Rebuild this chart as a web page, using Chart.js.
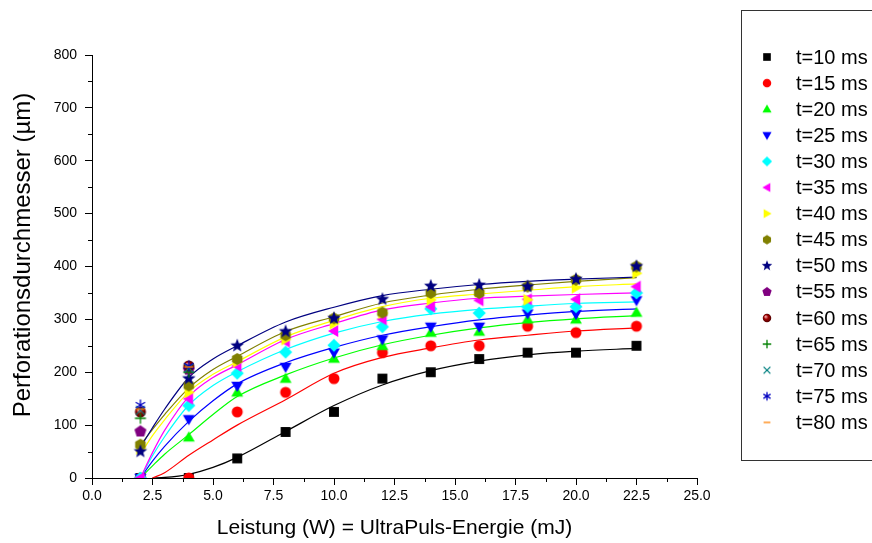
<!DOCTYPE html>
<html>
<head>
<meta charset="utf-8">
<script src="https://cdn.jsdelivr.net/npm/chart.js@4.4.1/dist/chart.umd.min.js"></script>
<style>
  body { margin: 0; background: #fff; }
</style>
</head>
<body>
<canvas id="myChart" width="872" height="543"></canvas>
<script>
// measured points, x = power (W)
const energy = [2, 4, 6, 8, 10, 12, 14, 16, 18, 20, 22.5];
const pulseLabels = ['t=10 ms', 't=15 ms', 't=20 ms', 't=25 ms', 't=30 ms', 't=35 ms', 't=40 ms', 't=45 ms',
                     't=50 ms', 't=55 ms', 't=60 ms', 't=65 ms', 't=70 ms', 't=75 ms', 't=80 ms'];
const d10 = [0, 0, 37, 87, 125, 188, 200, 225, 237, 237, 250];
const d15 = [0, 0, 125, 162, 188, 237, 250, 250, 287, 275, 287];
const d20 = [0, 77, 162, 188, 226, 250, 275, 277, 300, 300, 313];
const d25 = [0, 111, 174, 210, 237, 262, 286, 286, 311, 310, 336];
const d30 = [0, 137, 198, 238, 251, 286, 320, 312, 324, 324, 350];
const d35 = [0, 150, 212, 258, 278, 300, 324, 336, 338, 338, 362];
const d40 = [55, 162, 220, 262, 292, 312, 337, 352, 337, 360, 387];
const d45 = [63, 175, 225, 270, 302, 313, 350, 350, 362, 375, 400];
const d50 = [50, 188, 250, 277, 302, 338, 363, 365, 362, 376, 400];
const d55 = [88, 205];
const d60 = [125, 212];
const d65 = [113, 200];
const d70 = [128, 208];
const d75 = [138, 212];
const d80 = [130, 210];

// fitted curves
const fitX = [2, 2.5, 3, 4, 5, 6, 8, 10, 12, 14, 16, 18, 20, 22.5];
const fit10 = [null, 0, 1, 7, 20, 39, 88, 137, 176, 203, 221, 233, 240, 245];
const fit15 = [null, 0, 10, 43, 72, 100, 148, 198, 228, 246, 261, 270, 278, 284];
const fit20 = [0, 23, 45, 82, 120, 154, 195, 227, 252, 270, 284, 294, 301, 307];
const fit25 = [0, 32, 60, 107, 146, 178, 218, 247, 270, 286, 299, 308, 315, 320];
const fit30 = [0, 42, 78, 138, 175, 201, 243, 274, 296, 310, 319, 325, 330, 333];
const fit35 = [0, 48, 90, 154, 190, 214, 262, 292, 318, 331, 340, 344, 347, 350];
const fit40 = [45, 80, 110, 163, 196, 220, 267, 298, 324, 340, 348, 355, 362, 367];
const fit45 = [62, 92, 120, 170, 205, 230, 277, 305, 331, 346, 357, 365, 372, 379];
const fit50 = [58, 95, 130, 190, 225, 250, 295, 323, 345, 357, 366, 372, 376, 380];

const yTitle = 'Perforationsdurchmesser (µm)';
const xTitle = 'Leistung (W) = UltraPuls-Energie (mJ)';
const FONT = "'Liberation Sans', Arial, sans-serif";

const series = [d10, d15, d20, d25, d30, d35, d40, d45, d50, d55, d60, d65, d70, d75, d80];
const fits = [fit10, fit15, fit20, fit25, fit30, fit35, fit40, fit45, fit50];
const colors = ['#000000', '#ff0000', '#00ff00', '#0000ff', '#00ffff', '#ff00ff', '#ffff00', '#808000',
                '#000080', '#800080', '#800000', '#008000', '#008080', '#0000c0', '#ff8000'];
const shapes = ['square', 'circle', 'up', 'down', 'diamond', 'left', 'right', 'hexagon',
                'star', 'pentagon', 'sphere', 'plus', 'cross', 'asterisk', 'dash'];

function poly(g, cx, cy, rad, n, startDeg) {
  for (let k = 0; k < n; k++) {
    const a = (startDeg + k * 360 / n) * Math.PI / 180;
    const px = cx + rad * Math.cos(a), py = cy + rad * Math.sin(a);
    if (k === 0) g.moveTo(px, py); else g.lineTo(px, py);
  }
  g.closePath();
}

function makeMarker(kind, color, size) {
  const c = document.createElement('canvas');
  const n = Math.ceil(size * 1.6) + 2;
  c.width = c.height = n;
  const g = c.getContext('2d');
  const m = n / 2, r = size / 2;
  g.fillStyle = color;
  g.strokeStyle = color;
  g.lineWidth = 1.3;
  g.beginPath();
  switch (kind) {
    case 'square': g.rect(m - r * 0.9, m - r * 0.9, r * 1.8, r * 1.8); g.fill(); break;
    case 'circle': g.arc(m, m, r, 0, Math.PI * 2); g.fill(); break;
    case 'up': poly(g, m, m + r * 0.15, r * 1.25, 3, -90); g.fill(); break;
    case 'down': poly(g, m, m - r * 0.15, r * 1.25, 3, 90); g.fill(); break;
    case 'left': poly(g, m + r * 0.15, m, r * 1.25, 3, 180); g.fill(); break;
    case 'right': poly(g, m - r * 0.15, m, r * 1.25, 3, 0); g.fill(); break;
    case 'diamond': poly(g, m, m, r * 1.2, 4, -90); g.fill(); break;
    case 'hexagon': poly(g, m, m, r * 1.1, 6, -90); g.fill(); break;
    case 'pentagon': poly(g, m, m, r * 1.15, 5, -90); g.fill(); break;
    case 'star':
      for (let k = 0; k < 10; k++) {
        const a = (-90 + k * 36) * Math.PI / 180;
        const rr = k % 2 ? r * 0.55 : r * 1.3;
        if (k === 0) g.moveTo(m + rr * Math.cos(a), m + rr * Math.sin(a));
        else g.lineTo(m + rr * Math.cos(a), m + rr * Math.sin(a));
      }
      g.closePath(); g.fill(); break;
    case 'sphere': {
      const grad = g.createRadialGradient(m - r * 0.35, m - r * 0.35, 0.5, m, m, r);
      grad.addColorStop(0, '#f0a0a0');
      grad.addColorStop(0.45, '#a00000');
      grad.addColorStop(1, '#500000');
      g.fillStyle = grad;
      g.arc(m, m, r, 0, Math.PI * 2); g.fill(); break;
    }
    case 'plus':
      g.moveTo(m - r, m); g.lineTo(m + r, m); g.moveTo(m, m - r); g.lineTo(m, m + r); g.stroke(); break;
    case 'cross':
      g.moveTo(m - r * 0.8, m - r * 0.8); g.lineTo(m + r * 0.8, m + r * 0.8);
      g.moveTo(m + r * 0.8, m - r * 0.8); g.lineTo(m - r * 0.8, m + r * 0.8); g.stroke(); break;
    case 'asterisk':
      g.moveTo(m, m - r); g.lineTo(m, m + r);
      g.moveTo(m - r * 0.85, m - r * 0.5); g.lineTo(m + r * 0.85, m + r * 0.5);
      g.moveTo(m + r * 0.85, m - r * 0.5); g.lineTo(m - r * 0.85, m + r * 0.5);
      g.stroke(); break;
    case 'dash':
      g.moveTo(m - r * 0.8, m); g.lineTo(m + r * 0.8, m); g.stroke(); break;
  }
  return c;
}

const datasets = [];
fits.forEach((f, i) => {
  const pts = [];
  fitX.forEach((x, k) => { if (f[k] !== null) pts.push({ x: x, y: f[k] }); });
  datasets.push({
    label: 'fit ' + pulseLabels[i],
    data: pts,
    showLine: true,
    borderColor: colors[i],
    borderWidth: 1.2,
    pointRadius: 0,
    cubicInterpolationMode: 'monotone',
    order: 200 - i,
    clip: 0
  });
});
series.forEach((s, i) => {
  datasets.push({
    label: pulseLabels[i],
    data: s.map((v, k) => ({ x: energy[k], y: v })),
    showLine: false,
    pointStyle: makeMarker(shapes[i], colors[i], 11),
    pointRadius: 6,
    order: 100 - i,
    clip: 0
  });
});

const legendMarkers = shapes.map((s, i) => makeMarker(s, colors[i], 8.5));

const minorTicks = {
  id: 'minorTicks',
  afterDraw(chart) {
    const { ctx, chartArea: a } = chart;
    const xs = chart.scales.x, ys = chart.scales.y;
    ctx.save();
    ctx.strokeStyle = '#000';
    ctx.lineWidth = 1;
    ctx.beginPath();
    for (let v = 1.25; v < 25; v += 2.5) {
      const px = Math.round(xs.getPixelForValue(v)) + 0.5;
      ctx.moveTo(px, a.bottom); ctx.lineTo(px, a.bottom + 4);
    }
    for (let v = 50; v < 800; v += 100) {
      const py = Math.round(ys.getPixelForValue(v)) + 0.5;
      ctx.moveTo(a.left, py); ctx.lineTo(a.left - 4, py);
    }
    ctx.stroke();

    // y title sits a bit above the axis middle in the original
    ctx.translate(23, 255);
    ctx.rotate(-Math.PI / 2);
    ctx.font = '24px ' + FONT;
    ctx.fillStyle = '#000';
    ctx.textAlign = 'center';
    ctx.textBaseline = 'middle';
    ctx.fillText(yTitle, 0, 0);
    ctx.restore();
  }
};

const boxLegend = {
  id: 'boxLegend',
  afterDraw(chart) {
    const ctx = chart.ctx;
    ctx.save();
    ctx.strokeStyle = '#333';
    ctx.lineWidth = 1;
    ctx.strokeRect(741.5, 10.5, 150, 450);
    ctx.font = '20px ' + FONT;
    ctx.fillStyle = '#000';
    ctx.textBaseline = 'middle';
    pulseLabels.forEach((label, i) => {
      const y = 57 + i * 26.1;
      const img = legendMarkers[i];
      ctx.drawImage(img, 767 - img.width / 2, y - img.height / 2);
      ctx.fillText(label, 796, y + 1);
    });
    ctx.restore();
  }
};

const ctx = document.getElementById('myChart');
const myChart = new Chart(ctx, {
  type: 'scatter',
  data: { datasets: datasets },
  options: {
    responsive: false,
    animation: false,
    devicePixelRatio: 1,
    layout: { padding: { left: 0, top: 55, right: 175, bottom: 0 } },
    plugins: { legend: { display: false }, tooltip: { enabled: false } },
    scales: {
      x: {
        type: 'linear', min: 0, max: 25,
        border: { color: '#000', width: 1 },
        grid: { drawOnChartArea: false, color: '#000', tickLength: 7 },
        ticks: {
          stepSize: 2.5, color: '#000', padding: 3, maxRotation: 0, autoSkip: false,
          font: { size: 14, family: FONT },
          callback: v => v.toFixed(1)
        },
        title: {
          display: true, text: xTitle, color: '#000',
          font: { size: 21, family: FONT }, padding: { top: 0, bottom: 2 }
        },
        afterFit: s => { s.height = 65; }
      },
      y: {
        type: 'linear', min: 0, max: 800,
        border: { color: '#000', width: 1 },
        grid: { drawOnChartArea: false, color: '#000', tickLength: 7 },
        ticks: {
          stepSize: 100, color: '#000', padding: 8,
          font: { size: 14, family: FONT }
        },
        afterFit: s => { s.width = 92; }
      }
    }
  },
  plugins: [minorTicks, boxLegend]
});
</script>
</body>
</html>
